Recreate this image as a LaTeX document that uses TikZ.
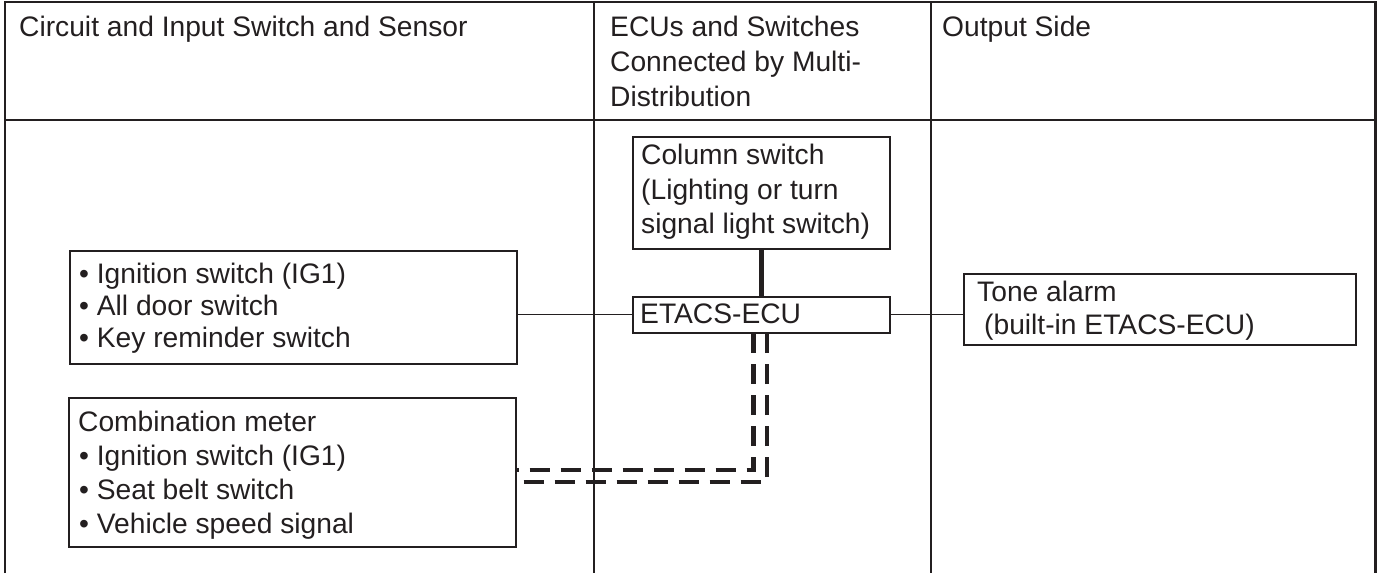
\documentclass[tikz,border=0pt]{standalone}
\usepackage{fontspec}
\setmainfont{Liberation Sans}
\usetikzlibrary{calc}
\definecolor{ink}{HTML}{231F20}
\begin{document}
\begin{tikzpicture}[x=1pt,y=-1pt,
  frame/.style={draw=ink, line width=1.4pt},
  box/.style={draw=ink, line width=1.6pt, rectangle, inner sep=0pt, anchor=north west},
  txt/.style={anchor=base west, inner sep=0pt, text=ink, font=\fontsize{28.2}{34}\selectfont},
  wire/.style={draw=ink, line width=1.3pt},
  bus/.style={draw=ink, line width=5pt},
  mux/.style={draw=ink, line width=4.5pt, dash pattern=on 20pt off 11pt}
]
\useasboundingbox (0,0) rectangle (1378,573);

% table frame
\draw[frame] (5,573) -- (5,2) -- (1375,2);
\draw[frame, line width=3pt] (1375,1) -- (1375,573);
\draw[frame] (5,120) -- (1375,120);
\draw[frame] (594,2) -- (594,573);
\draw[frame] (931,2) -- (931,573);

% headers
\node[txt] (h1) at (19,36) {Circuit and Input Switch and Sensor};
\node[txt] (h2a) at (610,36) {ECUs and Switches};
\node[txt] (h2b) at (610,71) {Connected by Multi-};
\node[txt] (h2c) at (610,106) {Distribution};
\node[txt] (h3) at (942,36) {Output Side};

% boxes
\node[box, minimum width=447pt, minimum height=113pt] (inbox) at (69,250) {};
\node[box, minimum width=447pt, minimum height=149pt] (comb) at (68,397) {};
\node[box, minimum width=257pt, minimum height=112pt] (colsw) at (632,136) {};
\node[box, minimum width=257pt, minimum height=36pt] (etacs) at (632,296) {};
\node[box, minimum width=392pt, minimum height=71pt] (tone) at (963,273) {};

% box texts
\node[txt] (in1) at (79,283) {• Ignition switch (IG1)};
\node[txt] (in2) at (79,315) {• All door switch};
\node[txt] (in3) at (79,347) {• Key reminder switch};

\node[txt] (cm1) at (78,431) {Combination meter};
\node[txt] (cm2) at (79,465) {• Ignition switch (IG1)};
\node[txt] (cm3) at (79,499) {• Seat belt switch};
\node[txt] (cm4) at (79,533) {• Vehicle speed signal};

\node[txt] (cs1) at (641,164) {Column switch};
\node[txt] (cs2) at (641,199) {(Lighting or turn};
\node[txt] (cs3) at (641,233) {signal light switch)};

\node[txt] (et) at (640,323) {ETACS-ECU};

\node[txt] (ta1) at (977,301) {Tone alarm};
\node[txt] (ta2) at (984,334) {(built-in ETACS-ECU)};

% connectors
\draw[wire] (inbox.east |- etacs.west) -- (etacs.west);
\draw[wire] (etacs.east) -- (etacs.east -| tone.west);
\draw[bus] (colsw.south) -- (etacs.north);
\draw[mux, dash phase=18pt] ($(comb.east)+(0,-2.5)$) -| ($(etacs.south)+(-8,0)$);
\draw[mux, dash phase=24pt] ($(comb.east)+(0,9.5)$) -| ($(etacs.south)+(5.5,0)$);
\end{tikzpicture}
\end{document}
